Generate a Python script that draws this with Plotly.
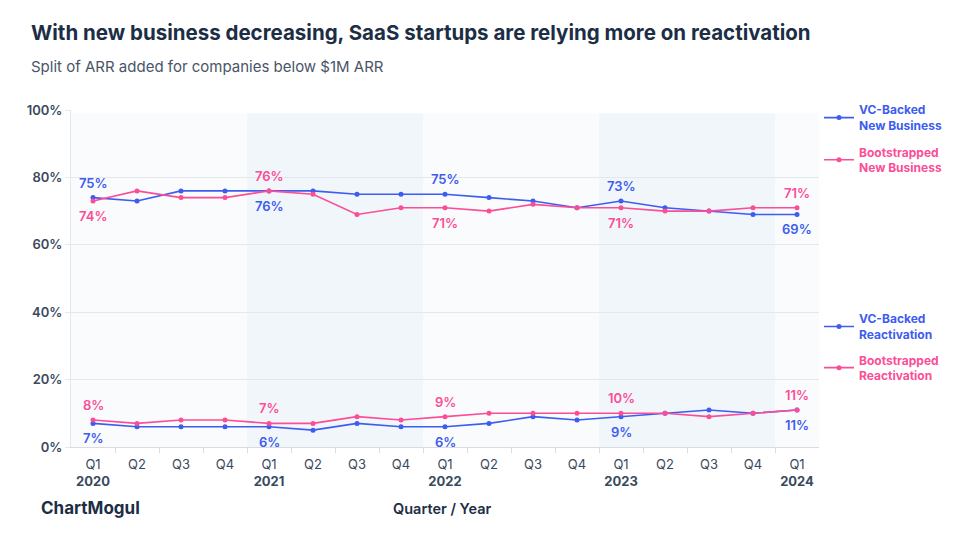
import plotly.graph_objects as go

quarters = ["Q1", "Q2", "Q3", "Q4"] * 4 + ["Q1"]
years = [2020] * 4 + [2021] * 4 + [2022] * 4 + [2023] * 4 + [2024]

vc_new_business = [74, 73, 76, 76, 76, 76, 75, 75, 75, 74, 73, 71, 73, 71, 70, 69, 69]
boot_new_business = [73, 76, 74, 74, 76, 75, 69, 71, 71, 70, 72, 71, 71, 70, 70, 71, 71]
vc_reactivation = [7, 6, 6, 6, 6, 5, 7, 6, 6, 7, 9, 8, 9, 10, 11, 10, 11]
boot_reactivation = [8, 7, 8, 8, 7, 7, 9, 8, 9, 10, 10, 10, 10, 10, 9, 10, 11]

# labels shown on Q1 points (as printed in the chart)
vc_nb_labels = {0: "75%", 4: "76%", 8: "75%", 12: "73%", 16: "69%"}
boot_nb_labels = {0: "74%", 4: "76%", 8: "71%", 12: "71%", 16: "71%"}
vc_re_labels = {0: "7%", 4: "6%", 8: "6%", 12: "9%", 16: "11%"}
boot_re_labels = {0: "8%", 4: "7%", 8: "9%", 12: "10%", 16: "11%"}
vc_nb_above = {0: True, 4: False, 8: True, 12: True, 16: False}
boot_nb_above = {0: False, 4: True, 8: False, 12: False, 16: True}

y_ticks = [0, 20, 40, 60, 80, 100]

BLUE = "#3d5cf0"
PINK = "#fc4d97"
DARK = "#1c2e45"
TICK = "#3a4a5e"
GRID = "#e4e7eb"
FONT = "Inter"

x = list(range(len(quarters)))
ticktext = [f"{q}<br><b>{y}</b>" if q == "Q1" else q for q, y in zip(quarters, years)]

fig = go.Figure()

# year bands
band_years = sorted(set(years))
for i, yr in enumerate(band_years):
    idx = [k for k, yy in enumerate(years) if yy == yr]
    fig.add_shape(type="rect", xref="x", yref="y", x0=idx[0] - 0.5, x1=idx[-1] + 0.5,
                  y0=0, y1=99, fillcolor="#f1f6fb" if i % 2 else "#f9fbfc",
                  line_width=0, layer="below")

series = [
    ("VC-Backed<br>New Business", vc_new_business, BLUE, "legend", 1.043),
    ("Bootstrapped<br>New Business", boot_new_business, PINK, "legend2", 0.918),
    ("VC-Backed<br>Reactivation", vc_reactivation, BLUE, "legend3", 0.423),
    ("Bootstrapped<br>Reactivation", boot_reactivation, PINK, "legend4", 0.301),
]
legend_layout = {}
for name, vals, col, leg, ly in series:
    fig.add_trace(go.Scatter(
        x=x, y=vals, mode="lines+markers",
        name=f"<span style='color:{col}'><b>{name}</b></span>",
        line=dict(color=col, width=1.6), marker=dict(color=col, size=5),
        legend=leg, hoverinfo="skip"))
    legend_layout[leg] = dict(x=1.0, xanchor="left", y=ly, yanchor="top",
                              font=dict(family=FONT, size=12, color=col),
                              itemwidth=30, bgcolor="rgba(0,0,0,0)")

labels = [
    (vc_new_business, vc_nb_labels, BLUE, vc_nb_above),
    (boot_new_business, boot_nb_labels, PINK, boot_nb_above),
    (vc_reactivation, vc_re_labels, BLUE, {k: False for k in vc_re_labels}),
    (boot_reactivation, boot_re_labels, PINK, {k: True for k in boot_re_labels}),
]
for vals, labs, col, above in labels:
    for k in sorted(labs):
        fig.add_annotation(x=k, y=vals[k], xref="x", yref="y", text=labs[k],
                           showarrow=False, yanchor="middle",
                           yshift=15 if above[k] else -15,
                           font=dict(family=FONT, size=13, color=col, weight=600))

fig.update_layout(
    width=952, height=547,
    margin=dict(l=63, r=141, t=102, b=108),
    paper_bgcolor="white", plot_bgcolor="white",
    font=dict(family=FONT, color=TICK),
    xaxis=dict(range=[-0.5, 16.5], tickvals=x, ticktext=ticktext,
               ticks="outside", ticklen=5, tickcolor="rgba(0,0,0,0)",
               tickfont=dict(size=13, color=TICK),
               showgrid=False, showline=True, linecolor="#d8dce1", zeroline=False,
               minor=dict(tickvals=[k + 0.5 for k in x[:-1]], ticks="outside",
                          ticklen=5, tickcolor="#d8dce1", showgrid=False)),
    yaxis=dict(range=[0, 100], tickvals=y_ticks, ticktext=[f"{v}%" for v in y_ticks],
               ticks="outside", ticklen=5, tickcolor=GRID,
               tickfont=dict(size=13, color=TICK, weight=600),
               showgrid=True, gridcolor=GRID, showline=True, linecolor=GRID,
               zeroline=False),
    showlegend=True,
    **legend_layout,
)


def px_to_paper_x(px):
    return (px - 71) / 748


def px_to_paper_y(py):
    return (447 - py) / 337


fig.add_annotation(text="<b>With new business decreasing, SaaS startups are relying more on reactivation</b>",
                   xref="paper", yref="paper", x=px_to_paper_x(29), y=px_to_paper_y(32),
                   xanchor="left", yanchor="middle", showarrow=False,
                   font=dict(family=FONT, size=20.5, color=DARK))
fig.add_annotation(text="Split of ARR added for companies below $1M ARR",
                   xref="paper", yref="paper", x=px_to_paper_x(29), y=px_to_paper_y(67),
                   xanchor="left", yanchor="middle", showarrow=False,
                   font=dict(family=FONT, size=15, color="#4a5568"))
fig.add_annotation(text="<b>ChartMogul</b>",
                   xref="paper", yref="paper", x=px_to_paper_x(39), y=px_to_paper_y(508),
                   xanchor="left", yanchor="middle", showarrow=False,
                   font=dict(family=FONT, size=17, color=DARK))
fig.add_annotation(text="Quarter / Year",
                   xref="paper", yref="paper", x=px_to_paper_x(442), y=px_to_paper_y(508),
                   xanchor="center", yanchor="middle", showarrow=False,
                   font=dict(family=FONT, size=14.5, color=DARK, weight=600))

fig.write_html("out.html")
